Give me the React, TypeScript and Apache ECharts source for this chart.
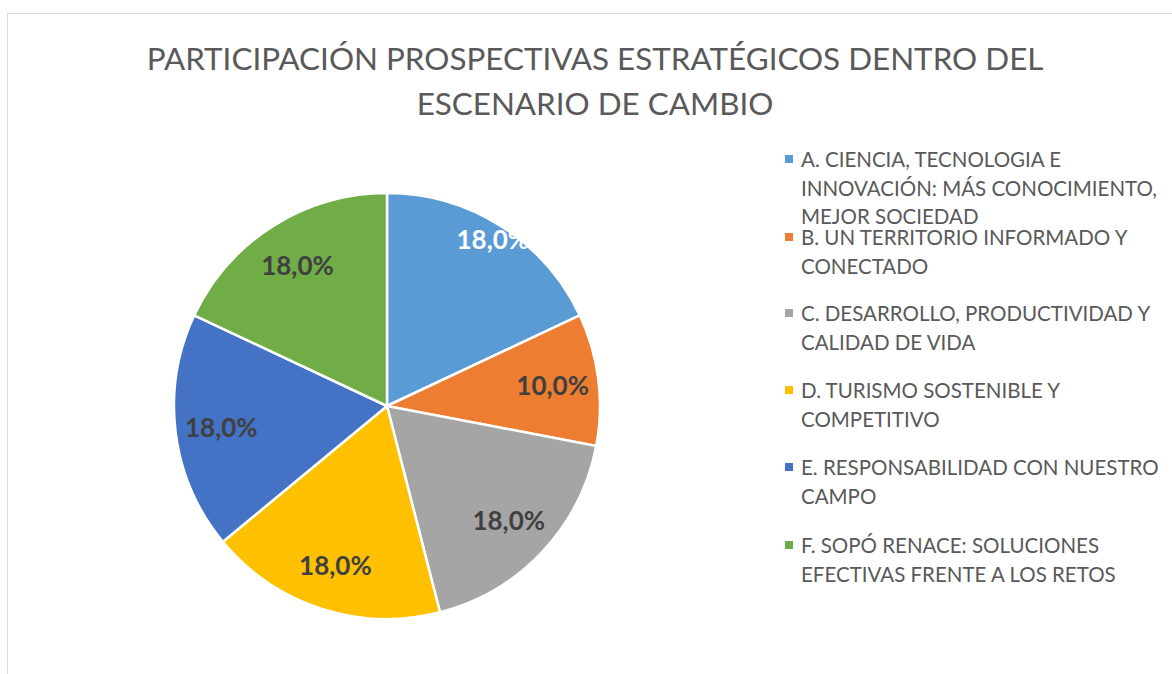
import React, { useEffect, useRef } from "react";
import * as echarts from "echarts";

const titleText = "PARTICIPACIÓN PROSPECTIVAS ESTRATÉGICOS DENTRO DEL\nESCENARIO DE CAMBIO";
const categories = [
  "A. CIENCIA, TECNOLOGIA E INNOVACIÓN: MÁS CONOCIMIENTO, MEJOR SOCIEDAD",
  "B. UN TERRITORIO INFORMADO Y CONECTADO",
  "C. DESARROLLO, PRODUCTIVIDAD Y CALIDAD DE VIDA",
  "D. TURISMO SOSTENIBLE Y COMPETITIVO",
  "E. RESPONSABILIDAD CON NUESTRO CAMPO",
  "F. SOPÓ RENACE: SOLUCIONES EFECTIVAS FRENTE A LOS RETOS",
];
const legendLines = [
  ["A. CIENCIA, TECNOLOGIA E", "INNOVACIÓN: MÁS CONOCIMIENTO,", "MEJOR SOCIEDAD"],
  ["B. UN TERRITORIO INFORMADO Y", "CONECTADO"],
  ["C. DESARROLLO, PRODUCTIVIDAD Y", "CALIDAD DE VIDA"],
  ["D. TURISMO SOSTENIBLE Y", "COMPETITIVO"],
  ["E. RESPONSABILIDAD CON NUESTRO", "CAMPO"],
  ["F. SOPÓ RENACE: SOLUCIONES", "EFECTIVAS FRENTE A LOS RETOS"],
];
const values = [18, 10, 18, 18, 18, 18];
const colors = ["#5B9BD5", "#ED7D31", "#A5A5A5", "#FFC000", "#4472C4", "#70AD47"];

const FONT = "Lato";
const LH = 28.5;
const legendIconCenters = [159, 237, 313, 390, 467, 545];
const CX = 387;
const CY = 406;
const R = 213;
const SQ = 8;

export default function App() {
  const ref = useRef<HTMLDivElement>(null);
  useEffect(() => {
    if (!ref.current) return;
    const chart = echarts.init(ref.current, null, { renderer: "svg" });
    const fmt = (p: any) => Number(p.value).toFixed(1).replace(".", ",") + "%";
    const data = categories.map((name, i) => ({ name, value: values[i], itemStyle: { color: colors[i] } }));
    const labelStyle = {
      show: true,
      position: "inside",
      formatter: fmt,
      fontFamily: FONT,
      fontWeight: "bold",
      fontSize: 26,
      color: "#404040",
    };
    const overlayData = (showIdx: (i: number) => boolean) =>
      categories.map((name, i) => ({
        name,
        value: values[i],
        itemStyle: { color: "rgba(0,0,0,0)", borderWidth: 0 },
        label: { ...labelStyle, show: showIdx(i), color: i === 0 ? "#FFFFFF" : "#404040" },
      }));

    const legends = categories.map((name, i) => {
      const n = legendLines[i].length;
      const H = n * LH;
      const y0 = LH / 2 - SQ / 2;
      const icon =
        "path://M0,0 L0.01,0 M0," + y0 + " L" + SQ + "," + y0 + " L" + SQ + "," + (y0 + SQ) +
        " L0," + (y0 + SQ) + " Z M0," + H + " L0.01," + H;
      return {
        data: [{ name, icon, itemStyle: { color: colors[i], borderWidth: 0 } }],
        left: 785,
        top: legendIconCenters[i] - LH / 2,
        padding: 0,
        itemWidth: SQ,
        itemHeight: H,
        orient: "vertical",
        selectedMode: false,
        formatter: () => legendLines[i].join("\n"),
        textStyle: {
          fontFamily: FONT,
          fontSize: 20.5,
          color: "#595959",
          lineHeight: LH,
          padding: [0, 0, 0, 3],
        },
      };
    });

    chart.setOption({
      animation: false,
      backgroundColor: "#FFFFFF",
      title: {
        text: titleText,
        left: 595,
        top: 35,
        padding: 0,
        textAlign: "center",
        textStyle: {
          fontFamily: FONT,
          fontWeight: "normal",
          fontSize: 31.4,
          lineHeight: 45,
          color: "#595959",
        },
      },
      legend: legends,
      graphic: [
        {
          type: "rect",
          shape: { x: 7.5, y: 13.5, width: 1300, height: 800 },
          style: { fill: "none", stroke: "#D9D9D9", lineWidth: 1 },
          silent: true,
          z: -10,
        },
      ],
      series: [
        {
          type: "pie",
          center: [CX, CY],
          radius: [0, R],
          startAngle: 90,
          clockwise: true,
          silent: true,
          label: { show: false },
          labelLine: { show: false },
          itemStyle: { borderColor: "#FFFFFF", borderWidth: 2.5 },
          data,
        },
        {
          type: "pie",
          center: [CX, CY],
          radius: [115, R],
          startAngle: 90,
          clockwise: true,
          silent: true,
          labelLine: { show: false },
          data: overlayData((i) => i !== 0),
          z: 3,
        },
        {
          type: "pie",
          center: [CX, CY],
          radius: [176, R],
          startAngle: 90,
          clockwise: true,
          silent: true,
          labelLine: { show: false },
          data: overlayData((i) => i === 0),
          z: 3,
        },
      ],
    });
    return () => chart.dispose();
  }, []);
  return (
    <div
      ref={ref}
      style={{ position: "fixed", left: 0, top: 0, width: 1172, height: 674 }}
    />
  );
}
